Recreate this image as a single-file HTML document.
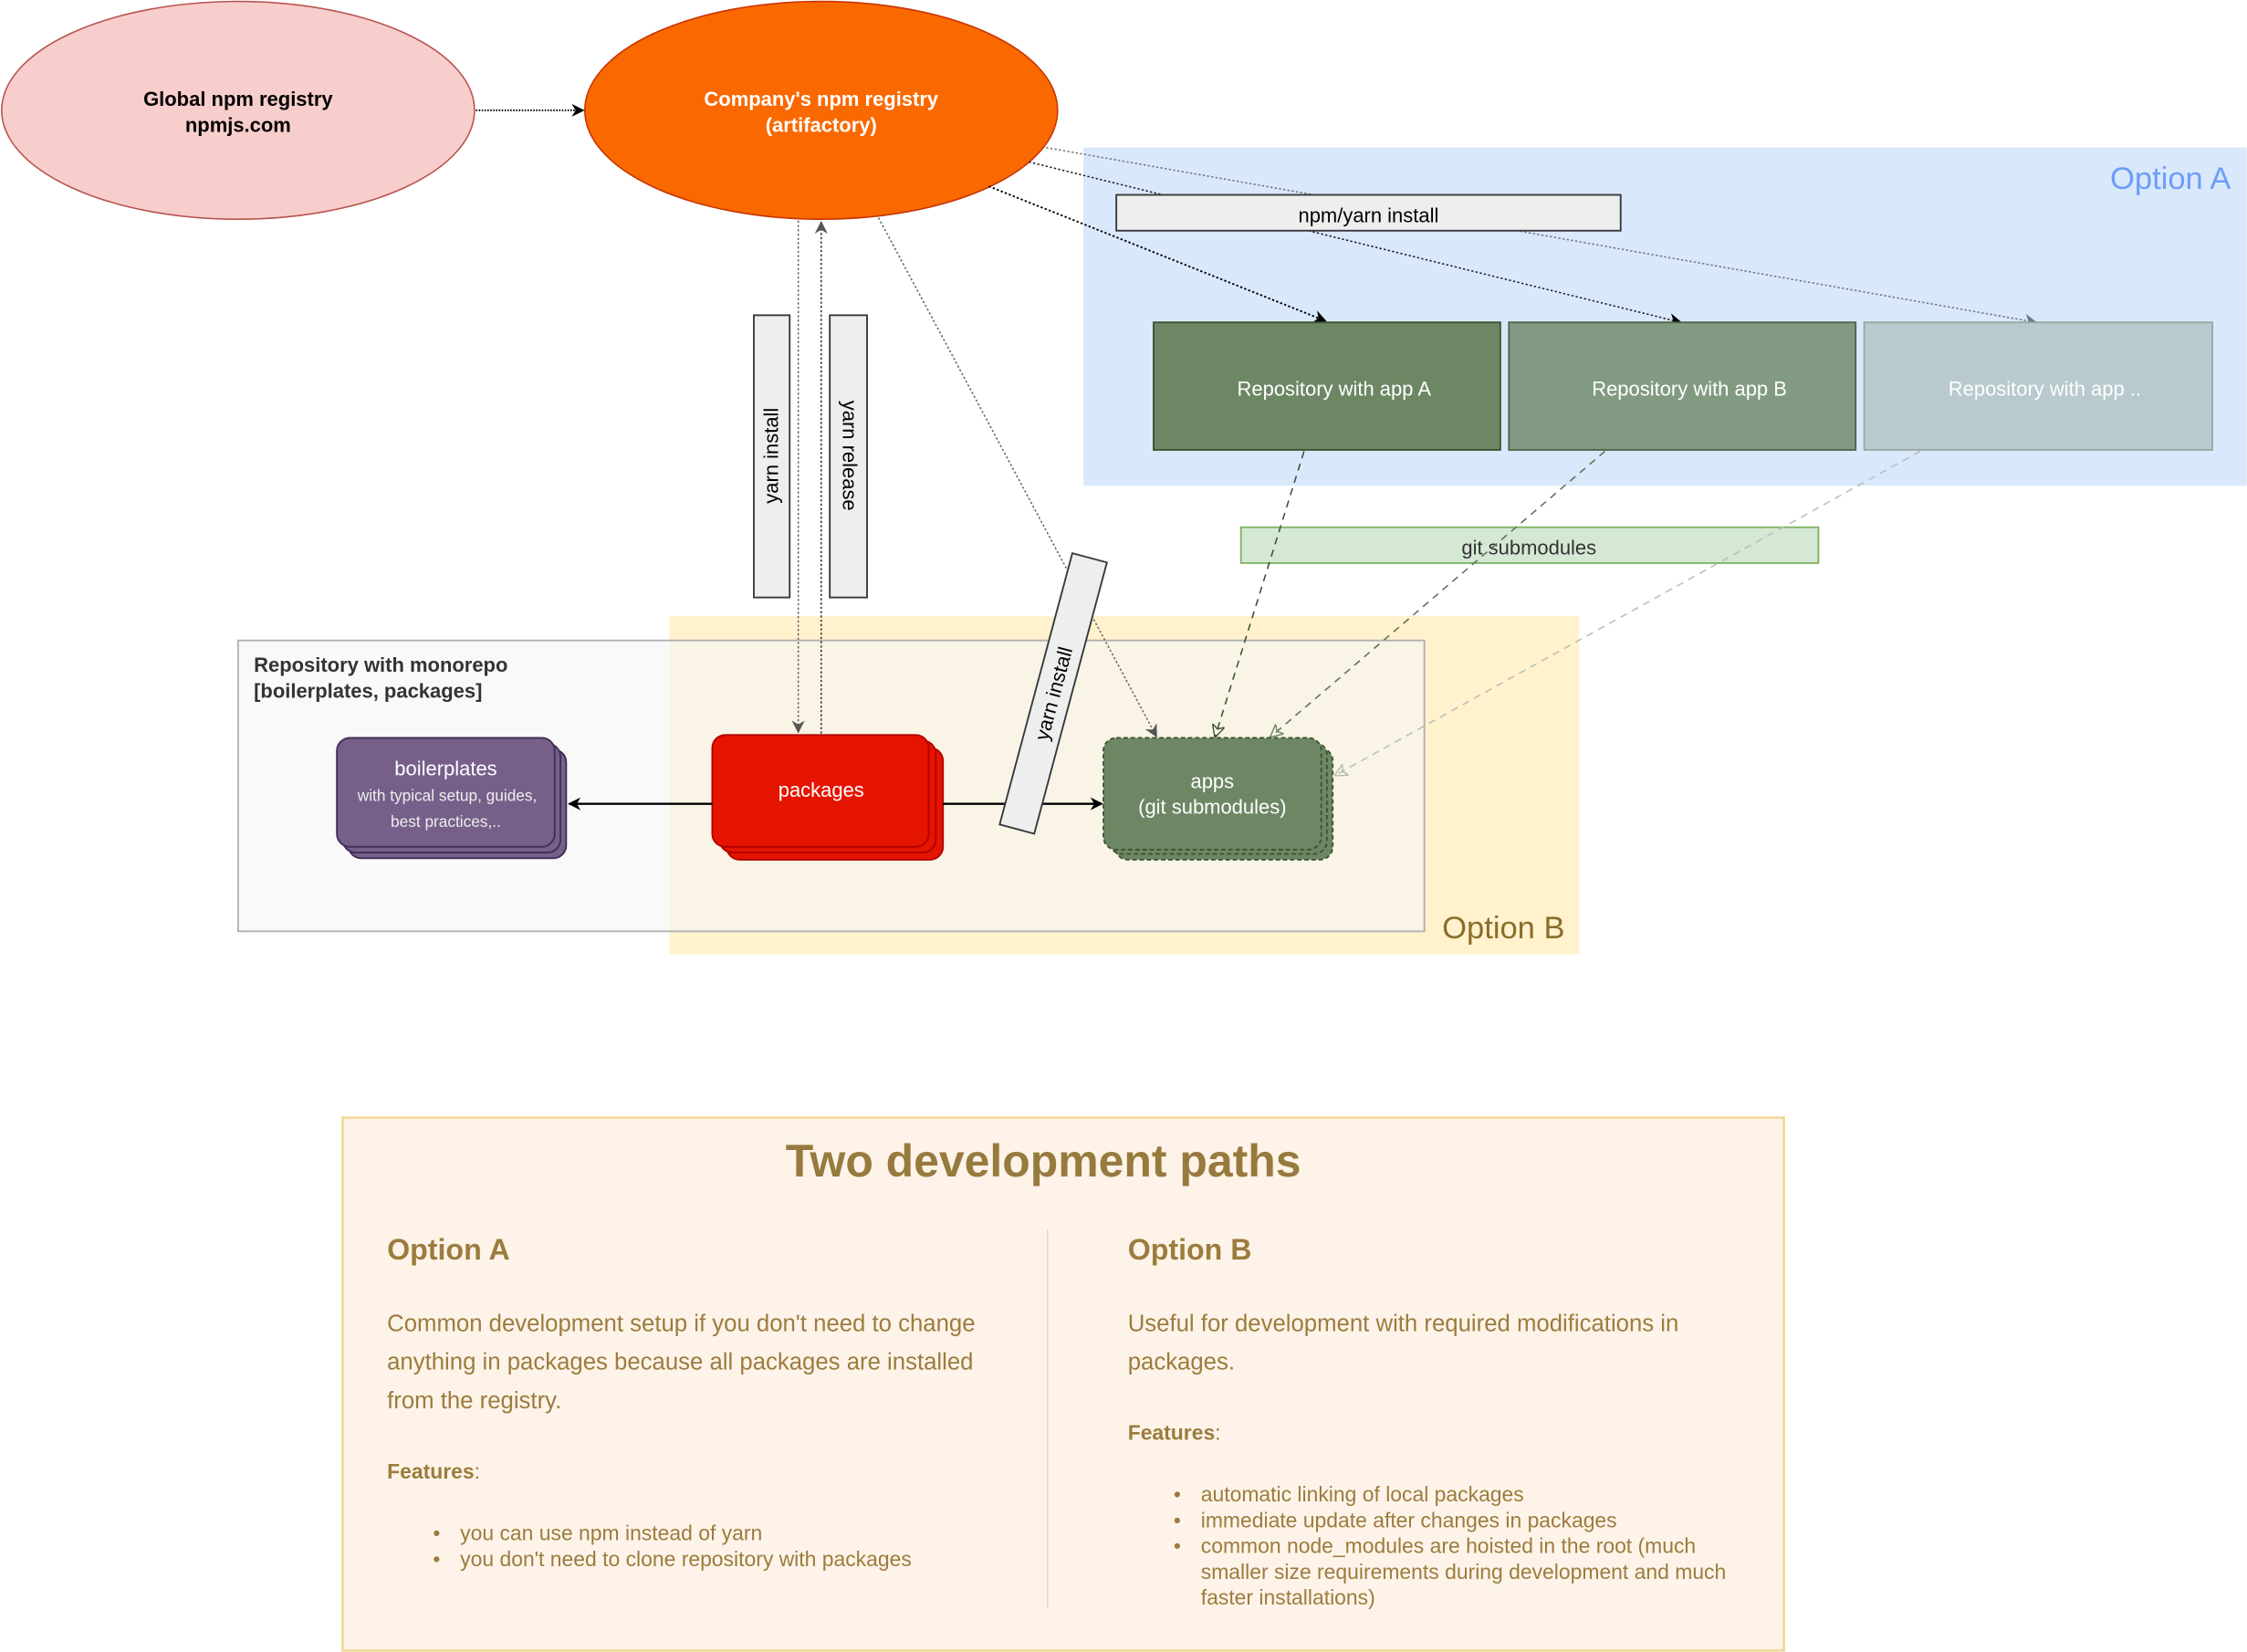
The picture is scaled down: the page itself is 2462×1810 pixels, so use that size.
<!DOCTYPE html>
<html><head><meta charset="utf-8"><style>
html,body{margin:0;padding:0;background:#fff;}
svg{display:block;}
text{font-family:"Liberation Sans",Arial,sans-serif;}
</style></head><body>
<svg width="2462" height="1810" viewBox="0 0 1568 1153" xmlns="http://www.w3.org/2000/svg">
<defs>
<marker id="ab" viewBox="0 0 10 10" refX="9" refY="5" markerWidth="9" markerHeight="9" orient="auto" markerUnits="userSpaceOnUse"><path d="M0,0 L10,5 L0,10 L3,5 z" fill="#000"/></marker>
<marker id="ag" viewBox="0 0 10 10" refX="9" refY="5" markerWidth="9" markerHeight="9" orient="auto" markerUnits="userSpaceOnUse"><path d="M0,0 L10,5 L0,10 L3,5 z" fill="#555"/></marker>
<marker id="al" viewBox="0 0 10 10" refX="9" refY="5" markerWidth="9" markerHeight="9" orient="auto" markerUnits="userSpaceOnUse"><path d="M0,0 L10,5 L0,10 L3,5 z" fill="#6a7a80"/></marker>
<marker id="agr" viewBox="0 0 10 10" refX="9" refY="5" markerWidth="9" markerHeight="9" orient="auto" markerUnits="userSpaceOnUse"><path d="M0,0 L10,5 L0,10 L3,5 z" fill="none" stroke="#3A5431"/></marker>
<marker id="agr2" viewBox="0 0 10 10" refX="9" refY="5" markerWidth="9" markerHeight="9" orient="auto" markerUnits="userSpaceOnUse"><path d="M0,0 L10,5 L0,10 L3,5 z" fill="none" stroke="#6d8764"/></marker>
<marker id="agr3" viewBox="0 0 10 10" refX="9" refY="5" markerWidth="9" markerHeight="9" orient="auto" markerUnits="userSpaceOnUse"><path d="M0,0 L10,5 L0,10 L3,5 z" fill="none" stroke="#b0bcb0"/></marker>
</defs>

<rect x="756" y="103" width="812" height="236" fill="#dae8fc"/>
<text x="1557" y="132" font-size="22" fill="#6c9ef8" text-anchor="end">Option A</text>

<rect x="467" y="430" width="635" height="236" fill="#fff2cc"/>
<rect x="166" y="447" width="828" height="203" fill="rgba(245,245,245,0.6)" stroke="#b0b0b0" stroke-width="1.2"/>
<text x="1092" y="655" font-size="22" fill="#8a6d2b" text-anchor="end">Option B</text>
<text x="177" y="469" font-size="14" font-weight="bold" fill="#333">Repository with monorepo</text>
<text x="177" y="487" font-size="14" font-weight="bold" fill="#333">[boilerplates, packages]</text>

<ellipse cx="166" cy="77" rx="165" ry="76" fill="#f8cecc" stroke="#b85450"/>
<text x="166" y="74" font-size="14" font-weight="bold" text-anchor="middle" fill="#000">Global npm registry</text>
<text x="166" y="92" font-size="14" font-weight="bold" text-anchor="middle" fill="#000">npmjs.com</text>
<ellipse cx="573" cy="77" rx="165" ry="76" fill="#fa6800" stroke="#C73500"/>
<text x="573" y="74" font-size="14" font-weight="bold" text-anchor="middle" fill="#fff">Company's npm registry</text>
<text x="573" y="92" font-size="14" font-weight="bold" text-anchor="middle" fill="#fff">(artifactory)</text>
<line x1="332" y1="77" x2="407" y2="77" stroke="#000" stroke-width="1.3" stroke-dasharray="1,1" marker-end="url(#ab)"/>

<line x1="690" y1="130" x2="925" y2="224" stroke="#000" stroke-width="1.2" stroke-dasharray="1.5,1.5" marker-end="url(#ab)"/>
<line x1="718" y1="113" x2="1173" y2="225" stroke="#222" stroke-width="1" stroke-dasharray="1.5,1.5" marker-end="url(#ab)"/>
<line x1="730" y1="103" x2="1421" y2="225" stroke="#777" stroke-width="1" stroke-dasharray="1.5,1.5" marker-end="url(#al)"/>
<rect x="779" y="136" width="352" height="25" fill="#eeeeee" stroke="#36393d" stroke-width="1.2"/>
<text x="955" y="155" font-size="14" text-anchor="middle" fill="#000">npm/yarn install</text>

<rect x="805" y="225" width="242" height="89" fill="#6d8764" stroke="#3A5431" stroke-width="1.2"/>
<text x="931" y="276" font-size="14" text-anchor="middle" fill="#fff">Repository with app A</text>
<rect x="1053" y="225" width="242" height="89" fill="#829a82" stroke="#4f6648" stroke-width="1.2"/>
<text x="1179" y="276" font-size="14" text-anchor="middle" fill="#fff">Repository with app B</text>
<rect x="1301" y="225" width="243" height="89" fill="#b8cace" stroke="#98a8a2" stroke-width="1.2"/>
<text x="1427" y="276" font-size="14" text-anchor="middle" fill="#fff">Repository with app ..</text>

<rect x="866" y="368" width="403" height="25" fill="#d5e8d4" stroke="#82b366" stroke-width="1.2"/>
<text x="1067" y="387" font-size="14" text-anchor="middle" fill="#333">git submodules</text>
<line x1="910" y1="315" x2="848" y2="514" stroke="#3A5431" stroke-dasharray="5,4" marker-end="url(#agr)"/>
<line x1="1120" y1="315" x2="887" y2="514" stroke="#5e7458" stroke-dasharray="5,4" marker-end="url(#agr2)"/>
<line x1="1340" y1="315" x2="932" y2="541" stroke="#b8c0b8" stroke-dasharray="5,4" marker-end="url(#agr3)"/>

<line x1="557" y1="154" x2="557" y2="511" stroke="#666" stroke-width="1" stroke-dasharray="1.5,1.5" marker-end="url(#ag)"/>
<line x1="573" y1="512" x2="573" y2="155" stroke="#333" stroke-width="1" stroke-dasharray="1.5,1.5" marker-end="url(#ag)"/>
<rect x="526" y="220" width="25" height="197" fill="#eeeeee" stroke="#36393d" stroke-width="1.2"/>
<text transform="translate(543,318) rotate(-90)" font-size="14" text-anchor="middle" fill="#000">yarn install</text>
<rect x="579" y="220" width="26" height="197" fill="#eeeeee" stroke="#36393d" stroke-width="1.2"/>
<text transform="translate(588,318) rotate(90)" font-size="14" text-anchor="middle" fill="#000">yarn release</text>

<line x1="613" y1="152" x2="807" y2="514" stroke="#666" stroke-width="1" stroke-dasharray="1.5,1.5" marker-end="url(#ag)"/>

<rect x="243" y="523" width="152" height="76" rx="9" fill="#76608a" stroke="#432D57" stroke-width="1.2"/>
<rect x="239" y="519" width="152" height="76" rx="9" fill="#76608a" stroke="#432D57" stroke-width="1.2"/>
<rect x="235" y="515" width="152" height="76" rx="9" fill="#76608a" stroke="#432D57" stroke-width="1.2"/>
<text x="311" y="541" font-size="14" text-anchor="middle" fill="#fff">boilerplates</text>
<text x="312" y="559" font-size="11" text-anchor="middle" fill="#eee">with typical setup, guides,</text>
<text x="311" y="577" font-size="11" text-anchor="middle" fill="#eee">best practices,..</text>

<rect x="507" y="522" width="151" height="78" rx="9" fill="#e51400" stroke="#B20000" stroke-width="1.2"/>
<rect x="502" y="517" width="151" height="78" rx="9" fill="#e51400" stroke="#B20000" stroke-width="1.2"/>
<rect x="497" y="513" width="151" height="78" rx="9" fill="#e51400" stroke="#B20000" stroke-width="1.2"/>
<text x="573" y="556" font-size="14" text-anchor="middle" fill="#fff">packages</text>

<rect x="778" y="522" width="152" height="78" rx="9" fill="#6d8764" stroke="#3A5431" stroke-width="1.2" stroke-dasharray="3,2"/>
<rect x="774" y="518" width="152" height="78" rx="9" fill="#6d8764" stroke="#3A5431" stroke-width="1.2" stroke-dasharray="3,2"/>
<rect x="770" y="515" width="152" height="78" rx="9" fill="#6d8764" stroke="#3A5431" stroke-width="1.2" stroke-dasharray="3,2"/>
<text x="846" y="550" font-size="14" text-anchor="middle" fill="#fff">apps</text>
<text x="846" y="568" font-size="14" text-anchor="middle" fill="#fff">(git submodules)</text>

<line x1="497" y1="561" x2="397" y2="561" stroke="#000" stroke-width="1.5" marker-end="url(#ab)"/>
<line x1="658" y1="561" x2="769" y2="561" stroke="#000" stroke-width="1.5" marker-end="url(#ab)"/>

<g transform="translate(735,484) rotate(-75)">
<rect x="-98" y="-12.5" width="196" height="25" fill="#eeeeee" stroke="#36393d" stroke-width="1.2"/>
<text x="0" y="5" font-size="14" text-anchor="middle" fill="#000">yarn install</text>
</g>

<rect x="239" y="780" width="1006" height="372" fill="#fdf3e8" stroke="#f0d68e" stroke-width="1.5"/>
<text x="728" y="821" font-size="31.8" font-weight="bold" text-anchor="middle" fill="#977a3d">Two development paths</text>
<line x1="731" y1="858" x2="731" y2="1123" stroke="#ecd9bd" stroke-width="1"/>
<g fill="#9c7c3e">
<text x="270" y="879" font-size="20.5" font-weight="bold">Option A</text>
<text x="270" y="929" font-size="16.4">Common development setup if you don't need to change</text>
<text x="270" y="956" font-size="16.4">anything in packages because all packages are installed</text>
<text x="270" y="983" font-size="16.4">from the registry.</text>
<text x="270" y="1032" font-size="14.6"><tspan font-weight="bold">Features</tspan>:</text>
<text x="302" y="1075" font-size="14.6">•</text><text x="321" y="1075" font-size="14.6">you can use npm instead of yarn</text>
<text x="302" y="1093" font-size="14.6">•</text><text x="321" y="1093" font-size="14.6">you don't need to clone repository with packages</text>

<text x="787" y="879" font-size="20.5" font-weight="bold">Option B</text>
<text x="787" y="929" font-size="16.4">Useful for development with required modifications in</text>
<text x="787" y="956" font-size="16.4">packages.</text>
<text x="787" y="1005" font-size="14.6"><tspan font-weight="bold">Features</tspan>:</text>
<text x="819" y="1048" font-size="14.6">•</text><text x="838" y="1048" font-size="14.6">automatic linking of local packages</text>
<text x="819" y="1066" font-size="14.6">•</text><text x="838" y="1066" font-size="14.6">immediate update after changes in packages</text>
<text x="819" y="1084" font-size="14.6">•</text><text x="838" y="1084" font-size="14.6">common node_modules are hoisted in the root (much</text>
<text x="838" y="1102" font-size="14.6">smaller size requirements during development and much</text>
<text x="838" y="1120" font-size="14.6">faster installations)</text>
</g>
</svg>
</body></html>
